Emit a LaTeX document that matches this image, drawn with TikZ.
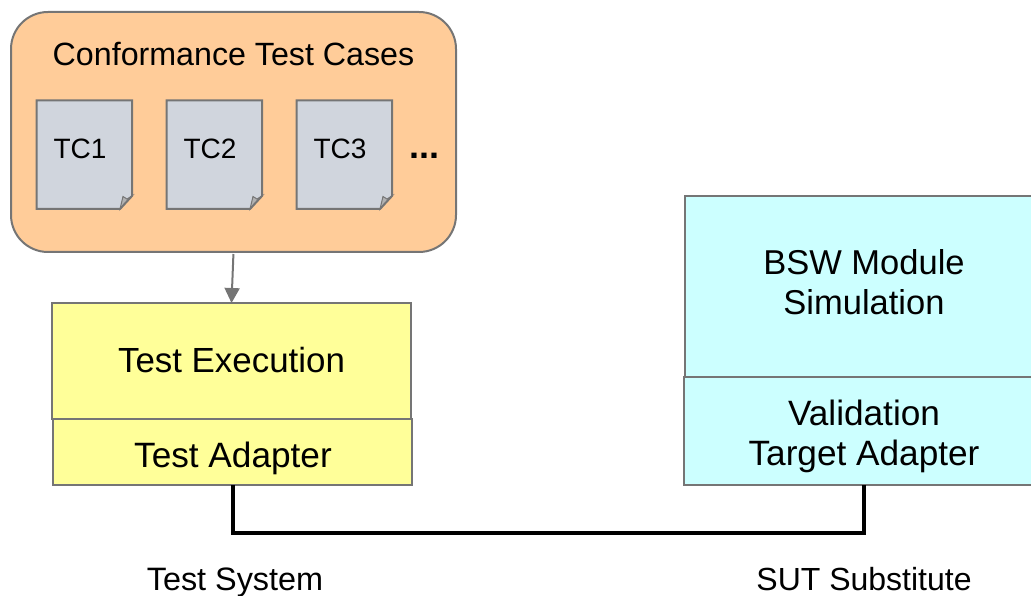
\documentclass[tikz,border=0pt]{standalone}
\usepackage{fontspec}
\setmainfont{Liberation Sans}
\usetikzlibrary{arrows.meta}
\definecolor{edgegray}{HTML}{757575}
\definecolor{casesfill}{HTML}{FFCC99}
\definecolor{docfill}{HTML}{D0D5DD}
\definecolor{foldfill}{HTML}{B2B2B2}
\definecolor{yellowfill}{HTML}{FFFF99}
\definecolor{cyanfill}{HTML}{CCFFFF}
\newcommand{\fs}[1]{\fontsize{#1pt}{40pt}\selectfont}
\tikzset{
  x=1pt,y=-1pt,
  blockbox/.style={draw=edgegray,line width=2pt,inner sep=0pt,outer sep=0pt,align=center,anchor=north west},
  docline/.style={draw=edgegray,line width=2pt,line join=miter},
  plain/.style={inner sep=0pt,align=center,anchor=base},
}
\begin{document}
\begin{tikzpicture}
\useasboundingbox (0,0) rectangle (1031,596);
\clip (0,0) rectangle (1031,596);
\node[blockbox,fill=casesfill,rounded corners=37pt,minimum width=445pt,minimum height=240pt] (cases) at (11,12) {};
\node[plain,font=\fs{32.2}] (casestitle) at (233.5,66) {Conformance Test Cases};
\foreach \i/\x in {1/36.5,2/166.5,3/296.5}{
  \fill[docfill] (\x,100.5) -- ++(95.5,0) -- ++(0,95.5) -- ++(-12,13) -- ++(-83.5,0) -- cycle;
  \fill[foldfill,draw=edgegray,line width=1pt] (\x+83.5,209) -- (\x+86.5,196.5) -- (\x+90.5,199) -- (\x+95.5,196) -- cycle;
  \draw[docline] (\x,100.5) -- ++(95.5,0) -- ++(0,95.5) -- ++(-12,13) -- ++(-83.5,0) -- cycle;
  \node[plain,font=\fs{28}] (tc\i) at (\x+43.5,159) {TC\i};
}
\node[plain,font=\bfseries\fs{36}] (dots) at (424,159) {...};
\node[blockbox,fill=yellowfill,minimum width=359pt,minimum height=116pt] (exec) at (52,303) {};
\node[plain,font=\fs{34.9}] (exectext) at (231.5,372) {Test Execution};
\node[blockbox,fill=yellowfill,minimum width=359pt,minimum height=66pt] (adapter) at (53,419) {};
\node[plain,font=\fs{35.2}] (adaptertext) at (233,467) {Test Adapter};
\node[blockbox,fill=cyanfill,minimum width=360pt,minimum height=181pt] (sim) at (685,196) {};
\node[plain,font=\fs{34.5}] (simtext) at (864,314) {BSW Module\\Simulation};
\node[blockbox,fill=cyanfill,minimum width=360pt,minimum height=108pt] (target) at (684,377) {};
\node[plain,font=\fs{35.2}] (targettext) at (864,465) {Validation\\Target Adapter};
\draw[edgegray,line width=2pt,shorten <=2pt,-{Triangle[length=15pt,width=15pt]}] (cases.south) -- (exec.north);
\draw[black,line width=4pt,line join=miter] (adapter.south) -- ++(0,47.5) -| (target.south);
\node[plain,font=\fs{32.4}] (syslabel) at (235,590) {Test System};
\node[plain,font=\fs{32}] (sutlabel) at (864,590) {SUT Substitute};
\end{tikzpicture}
\end{document}
